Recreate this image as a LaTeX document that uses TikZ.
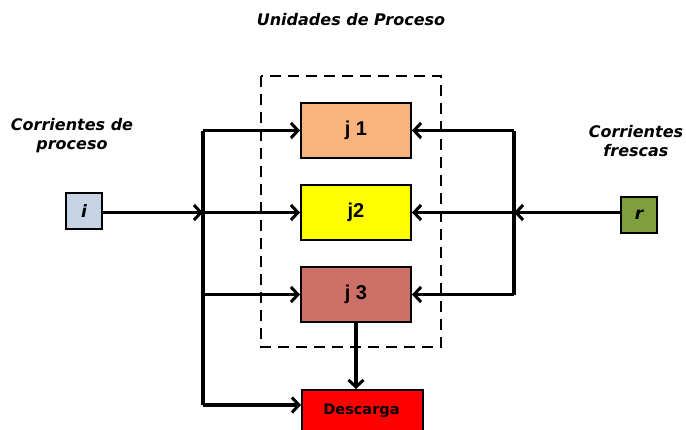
\documentclass[tikz,border=0pt]{standalone}
\usepackage{fontspec}
\setmainfont{Liberation Sans}
\newfontfamily\lblfont{DejaVu Sans}
\usetikzlibrary{arrows.meta}
\definecolor{cjone}{HTML}{F8B47C}
\definecolor{cjtwo}{HTML}{FFFF00}
\definecolor{cjthree}{HTML}{CD7068}
\definecolor{cdes}{HTML}{FF0000}
\definecolor{ci}{HTML}{C6D4E6}
\definecolor{cr}{HTML}{7F9F3F}
\tikzset{
  unit/.style={draw, line width=2pt, minimum width=110pt, minimum height=55pt, inner sep=0pt, font=\bfseries\fontsize{20}{22}\selectfont},
  src/.style={draw, line width=2pt, minimum width=36pt, minimum height=36pt, inner sep=0pt, font=\lblfont\bfseries\itshape\fontsize{17}{19}\selectfont},
  lbl/.style={align=center, font=\lblfont\bfseries\itshape\fontsize{16}{19}\selectfont},
  flow/.style={line width=3.2pt, -{Straight Barb[length=7pt,width=15pt,line width=3pt]}},
  bus/.style={line width=3.2pt},
}
\begin{document}
\begin{tikzpicture}[x=1pt,y=-1pt]
\clip (0,0) rectangle (686,429);
\fill[white] (0,0) rectangle (686,429);
\node[lbl] (title) at (351,20) {Unidades de Proceso};
\node[lbl] (lp) at (72,136) {Corrientes de\\proceso};
\node[lbl] (lf) at (636,141) {Corrientes\\frescas};
\draw[line width=2pt, dash pattern=on 11pt off 7pt] (261,76) rectangle (441,347);
\node[unit, fill=cjone] (j1) at (356,130.5) {j 1};
\node[unit, fill=cjtwo] (j2) at (356,212.5) {j2};
\node[unit, fill=cjthree] (j3) at (356,294.5) {j 3};
\node[unit, fill=cdes, minimum width=121pt, anchor=north west] (des) at (301,389) {};
\node[font=\lblfont\bfseries\fontsize{14.5}{16}\selectfont] (destxt) at (361.5,411) {Descarga};
\node[src, fill=ci] (i) at (84,211) {i};
\node[src, fill=cr] (r) at (639,215) {r};
\coordinate (l1) at (203,130.5);
\coordinate (l2) at (203,212.5);
\coordinate (l3) at (203,294.5);
\coordinate (l4) at (203,405);
\coordinate (r1) at (514,130.5);
\coordinate (r2) at (514,212.5);
\coordinate (r3) at (514,294.5);
\draw[bus] (l1) -- (l4);
\draw[bus] (r1) -- (r3);
\draw[flow] (i.east |- l2) -- (l2);
\draw[flow] (r.west |- r2) -- (r2);
\draw[flow] (l1) -- (j1.west);
\draw[flow] (l2) -- (j2.west);
\draw[flow] (l3) -- (j3.west);
\draw[flow] (l4) -- (des.west |- l4);
\draw[flow] (r1) -- (j1.east);
\draw[flow] (r2) -- (j2.east);
\draw[flow] (r3) -- (j3.east);
\draw[flow] (j3.south) -- (des.north -| j3.south);
\end{tikzpicture}
\end{document}
